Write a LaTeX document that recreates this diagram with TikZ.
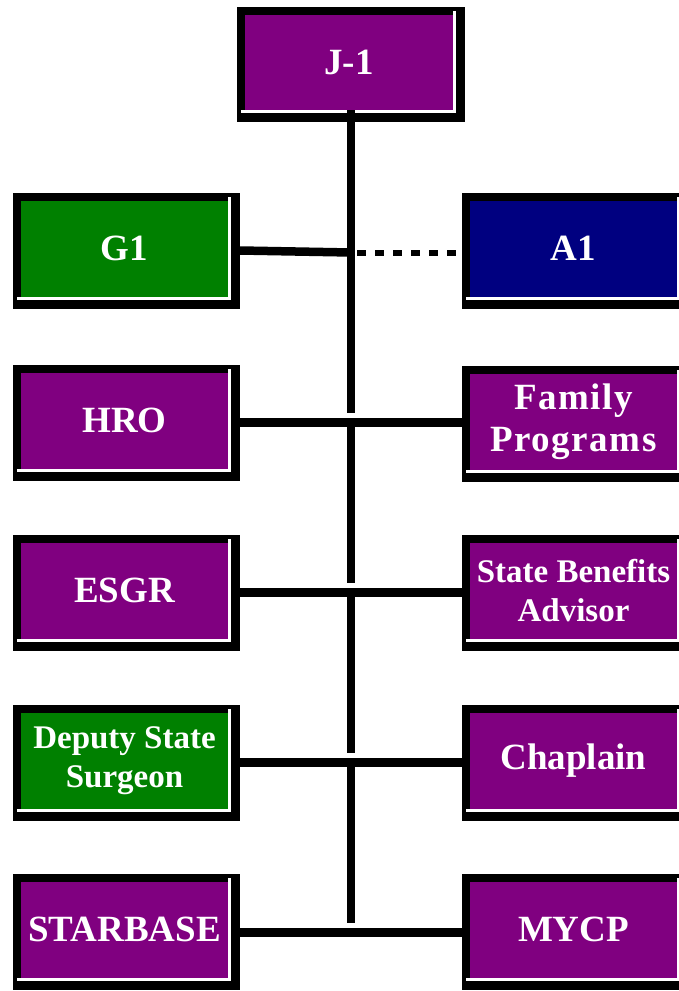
\documentclass[tikz,border=0pt]{standalone}
\usepackage{fontspec}
\setmainfont{Liberation Serif}
\usetikzlibrary{backgrounds,calc}
\definecolor{jpurple}{HTML}{800080}
\definecolor{jgreen}{HTML}{008000}
\definecolor{jnavy}{HTML}{000080}
\newcommand{\boxdeco}[1]{%
  \fill[black] ([shift={(-8,-8)}]#1.north west) rectangle ([shift={(12,12)}]#1.south east);
  \fill[white] ([shift={(-4,-4)}]#1.north west) rectangle ([shift={(3,3)}]#1.south east);
  \fill[black] ([shift={(-8,-8)}]#1.north west) rectangle (#1.south east);
}
\begin{document}
\begin{tikzpicture}[x=1pt,y=-1pt,
  box/.style={minimum width=207pt, minimum height=96pt, inner sep=0pt, outer sep=0pt,
    text=white, align=center, font=\bfseries\fontsize{37}{42}\selectfont},
  small/.style={font=\bfseries\fontsize{33}{39}\selectfont},
  conn/.style={line width=8.5pt, draw=black},
  dots/.style={line width=6pt, draw=black, dash pattern=on 9pt off 9pt}]
\useasboundingbox (0,0) rectangle (679,991);

\node[box, fill=jpurple, minimum width=208pt, minimum height=95pt] (j1) at (349,62.5) {J-1};
\node[box, fill=jgreen] (g1) at (124.5,248.5) {G1};
\node[box, fill=jnavy] (a1) at (573.5,248.5) {A1};
\node[box, fill=jpurple] (hro) at (124.5,420.5) {HRO};
\node[box, fill=jpurple, font=\bfseries\fontsize{37}{42}\selectfont\addfontfeature{LetterSpace=4}] (fam) at (573.5,421.5) {Family\\Programs};
\node[box, fill=jpurple] (esgr) at (124.5,590.5) {ESGR};
\node[box, fill=jpurple, small] (sba) at (573.5,590.5) {State Benefits\\Advisor};
\node[box, fill=jgreen, small] (dss) at (124.5,761) {Deputy State\\Surgeon};
\node[box, fill=jpurple] (chap) at (573.5,761) {Chaplain};
\node[box, fill=jpurple] (star) at (124.5,929.5) {STARBASE};
\node[box, fill=jpurple] (mycp) at (573.5,929.5) {MYCP};

\begin{scope}[on background layer]
  \fill[white] (0,0) rectangle (679,991);
  \boxdeco{j1}
  \boxdeco{g1}\boxdeco{a1}
  \boxdeco{hro}\boxdeco{fam}
  \boxdeco{esgr}\boxdeco{sba}
  \boxdeco{dss}\boxdeco{chap}
  \boxdeco{star}\boxdeco{mycp}
\end{scope}

\coordinate (jg) at (351,252.5);
\coordinate (jh) at (351,422.5);
\coordinate (je) at (351,592.5);
\coordinate (jd) at (351,762.5);
\coordinate (js) at (351,932.5);

% vertical trunk
\draw[conn] (j1.south -| jh) -- ($(jh)+(0,-9.5)$);
\draw[conn] (jh) -- ($(je)+(0,-9.5)$);
\draw[conn] (je) -- ($(jd)+(0,-9.5)$);
\draw[conn] (jd) -- ($(js)+(0,-9.5)$);

% G1 / A1
\draw[conn] ($(g1.east)+(12,2)$) -- (jg);
\draw[dots] ($(jg)+(6,0)$) -- (a1.west |- jg);

% rows
\draw[conn] ($(hro.east |- jh)+(12,0)$) -- (fam.west |- jh);
\draw[conn] ($(esgr.east |- je)+(12,0)$) -- (sba.west |- je);
\draw[conn] ($(dss.east |- jd)+(12,0)$) -- (chap.west |- jd);
\draw[conn] ($(star.east |- js)+(12,0)$) -- (mycp.west |- js);
\end{tikzpicture}
\end{document}
